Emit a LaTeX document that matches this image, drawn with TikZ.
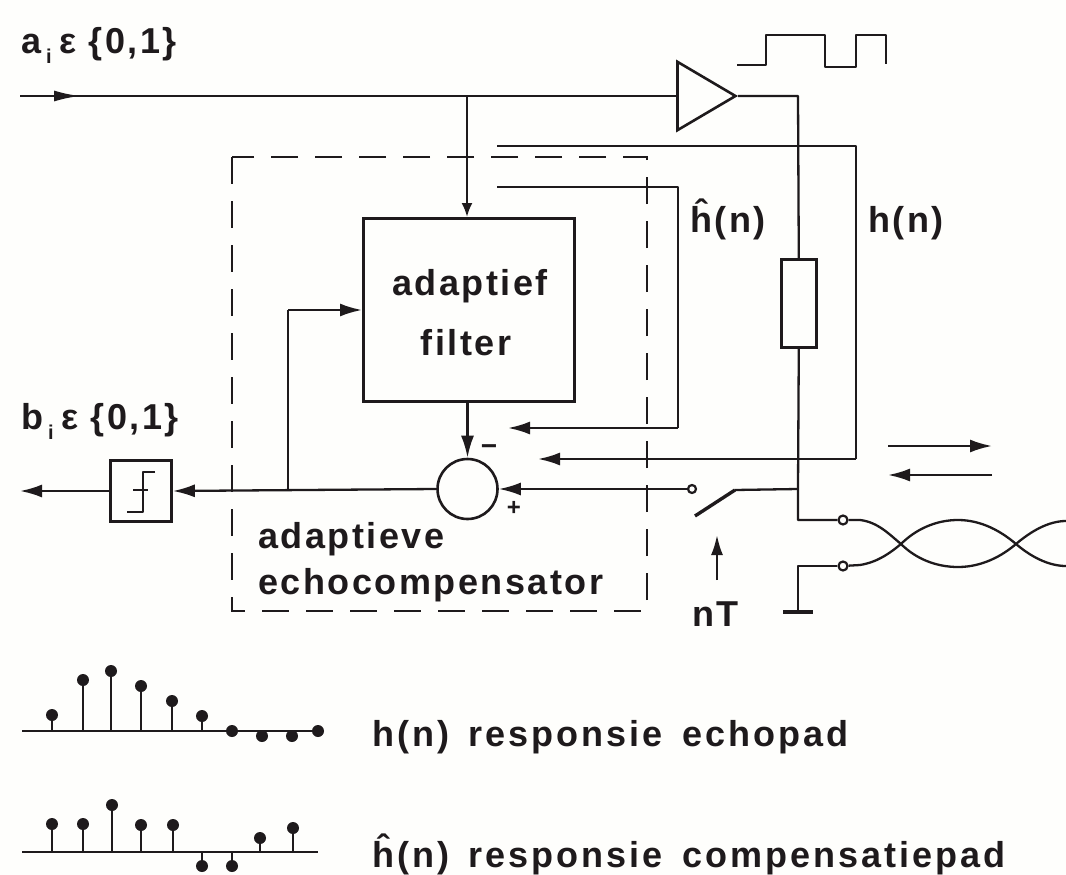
\documentclass[tikz,border=0pt]{standalone}
\usepackage{fontspec}
\setmainfont{Liberation Sans}
\newfontfamily\lab[LetterSpace=7]{Liberation Sans Bold}
\newfontfamily\labl[LetterSpace=8.4,WordSpace=1.5]{Liberation Sans Bold}
\usetikzlibrary{arrows.meta,shapes.geometric}
\definecolor{ink}{HTML}{1E1A1C}
\definecolor{paper}{HTML}{FEFEFC}
\tikzset{
 x=1pt,y=-1pt,
 wire/.style={draw=ink,line width=2.3pt,line join=round},
 arr/.style={wire,-{Latex[length=22pt,width=13pt]}},
 arrs/.style={wire,-{Latex[length=14pt,width=11pt]}},
 box/.style={draw=ink,line width=2.6pt,fill=paper,inner sep=0pt},
 lbl/.style={text=ink,font=\lab\fontsize{36}{38}\selectfont,inner sep=0pt,anchor=base west},
 lbll/.style={text=ink,font=\labl\fontsize{36}{38}\selectfont,inner sep=0pt,anchor=base west},
 term/.style={circle,draw=ink,line width=2.2pt,fill=paper,inner sep=0pt,minimum size=9pt},
 stem/.style={draw=ink,line width=2.3pt},
 lolly/.style={circle,fill=ink,inner sep=0pt,minimum size=12pt},
}
\begin{document}
\begin{tikzpicture}
\useasboundingbox (0,0) rectangle (1066,875);
\fill[paper] (0,0) rectangle (1066,875);
% labels top
\node[lbl] (ai) at (21,54) {a\hspace{5pt}\raisebox{-10pt}{\fontsize{20}{20}\selectfont i}\hspace{8pt}ε\hspace{12pt}\{0,1\}};
\node[lbl] (bi) at (21,429) {b\hspace{5pt}\raisebox{-10pt}{\fontsize{20}{20}\selectfont i}\hspace{8pt}ε\hspace{12pt}\{0,1\}};
% amplifier
\node[draw=ink,line width=2.6pt,fill=paper,isosceles triangle,isosceles triangle apex angle=61,minimum height=58pt,inner sep=0pt] (amp) at (697,96) {};
\coordinate (in) at (20,96);
\coordinate (inh) at (80,96);
\draw[wire] (in) -- (amp.west);
\draw[wire,-{Latex[length=26pt,width=11pt]}] (in) -- (inh);
% pulse
\coordinate (pa) at (737,65);
\coordinate (pb) at (886,64);
\draw[wire] (pa) -- (766,65) -- (766,35) -- (825,35) -- (825,67) -- (856,67) -- (856,35) -- (886,35) -- (pb);
\coordinate (tee) at (467,96);
\node[box,minimum width=211pt,minimum height=183pt,anchor=north west] (filt) at (362,217) {};
\draw[arrs] (tee) -- (filt.north -| tee);
\node[lbl,anchor=base] (t1) at (470,295) {adaptief};
\node[lbl,anchor=base] (t2) at (466,355) {filter};
% dashed
\coordinate (da) at (232,157);
\coordinate (db) at (647,611);
\draw[ink,line width=2.3pt,dash pattern=on 27pt off 17pt] (da) rectangle (db);
% outputs
\coordinate (r) at (798,96);
\node[box,minimum width=35pt,minimum height=88pt,anchor=north west] (res) at (780,258) {};
\draw[wire] (amp.east) -- (r) -- (res.north);
\coordinate (j) at (798,489);
\node[term] (t1a) at (843,520) {};
\node[term] (t2a) at (843,566) {};
\draw[wire] (res.south) -- (j) -- (798,520) -- (t1a);
\coordinate (g) at (798,612);
\coordinate (ga) at (783,612);
\coordinate (gb) at (813,612);
\draw[wire] (t2a) -- (798,566) -- (g);
\draw[wire,line width=3.4pt] (ga) -- (gb);
% twisted pair
\coordinate (tp1) at (1066,521);
\coordinate (tp2) at (1066,566);
\draw[wire] (t1a) -- (860,520) .. controls (878,522) and (890,535) .. (901,544) .. controls (915,558) and (935,567) .. (958,567) .. controls (982,567) and (1002,556) .. (1016,544) .. controls (1030,532) and (1048,521) .. (tp1);
\draw[wire] (t2a) -- (860,565) .. controls (878,562) and (890,553) .. (901,544) .. controls (915,530) and (935,520) .. (958,520) .. controls (982,520) and (1002,532) .. (1016,544) .. controls (1030,556) and (1048,566) .. (tp2);
% h loops
\coordinate (h1) at (497,146);
\coordinate (h2) at (856,146);
\coordinate (h3) at (856,459);
\coordinate (h4) at (538,459);
\draw[wire] (h1) -- (h2) -- (h3);
\draw[arr] (h3) -- (h4);
\coordinate (k1) at (497,187);
\coordinate (k2) at (678,187);
\coordinate (k3) at (678,428);
\coordinate (k4) at (508,428);
\draw[wire] (k1) -- (k2) -- (k3);
\draw[arr] (k3) -- (k4);
\node[lbl] (hh) at (690,232) {ĥ(n)};
\node[lbl] (h) at (868,232) {h(n)};
% summer
\node[draw=ink,line width=2.6pt,fill=paper,circle,minimum size=60pt,inner sep=0pt] (sum) at (467.5,489) {};
\draw[arr] (filt.south -| sum) -- (sum.north);
\node[text=ink,font=\lab\fontsize{28}{28}\selectfont,inner sep=0pt] (minus) at (489,450) {−};
\node[text=ink,font=\lab\fontsize{24}{24}\selectfont,inner sep=0pt] (plus) at (514,508) {+};
% sampler
\node[term,minimum size=8pt] (sw) at (692,489) {};
\coordinate (swa) at (695,516);
\coordinate (swe) at (735,490);
\draw[wire,line width=3.4pt] (swa) -- (swe);
\draw[wire] (swe) -- (j);
\draw[arr] (sw) -- (sum.east);
\coordinate (nta) at (717,580);
\coordinate (ntb) at (717,535);
\draw[wire,-{Latex[length=20pt,width=12pt]}] (nta) -- (ntb);
\node[lbl] (nt) at (692,626) {nT};
% slicer
\node[box,minimum width=61pt,minimum height=61pt] (f) at (141,491) {};
\coordinate (s1) at (155,472); \coordinate (s2) at (143,472); \coordinate (s3) at (143,512); \coordinate (s4) at (127,512);
\coordinate (s5) at (133,490); \coordinate (s6) at (148,490);
\draw[wire,line width=2.6pt] (s1) -- (s2) -- (s3) -- (s4);
\draw[wire,line width=2.6pt] (s5) -- (s6);
\draw[arr] (sum.west) -- (f.east);
\coordinate (bo) at (20,491);
\draw[arr] (f.west) -- (bo);
\coordinate (b1) at (288,490);
\coordinate (b2) at (288,310);
\draw[wire] (b1) -- (b2);
\draw[arr] (b2) -- (b2 -| filt.west);
\node[lbl] (t3) at (258,548) {adaptieve};
\node[lbl] (t4) at (258,594) {echocompensator};
% direction arrows
\coordinate (d1a) at (888,446); \coordinate (d1b) at (992,446);
\coordinate (d2a) at (992,475); \coordinate (d2b) at (888,475);
\draw[arr] (d1a) -- (d1b);
\draw[arr] (d2a) -- (d2b);
% lollipops 1
\coordinate (ax1a) at (22,731); \coordinate (ax1b) at (318,731);
\draw[wire,line width=2.6pt] (ax1a) -- (ax1b);
\foreach \x/\y/\n in {52/715/a,83/680/b,111/671/c,141/686/d,172/701/e,202/716/f}{
 \node[lolly] (p\n) at (\x,\y) {};
 \draw[stem] (p\n) -- (\x,731);
}
\foreach \x/\y/\n in {232/731/g,262/736/h,292/736/i,318/731/j}{
 \node[lolly] (p\n) at (\x,\y) {};
}
\node[lbll] (l1) at (372,746) {h(n) responsie echopad};
% lollipops 2
\coordinate (ax2a) at (22,852); \coordinate (ax2b) at (318,852);
\draw[wire,line width=2.6pt] (ax2a) -- (ax2b);
\foreach \x/\y/\n in {52/824/k,83/824/l,112/805/m,141/825/n,173/825/o,260/838/p,293/828/q,202/866/r,232/866/s}{
 \node[lolly] (q\n) at (\x,\y) {};
 \draw[stem] (q\n) -- (\x,852);
}
\node[lbll] (l2) at (372,867) {ĥ(n) responsie compensatiepad};
\end{tikzpicture}
\end{document}
